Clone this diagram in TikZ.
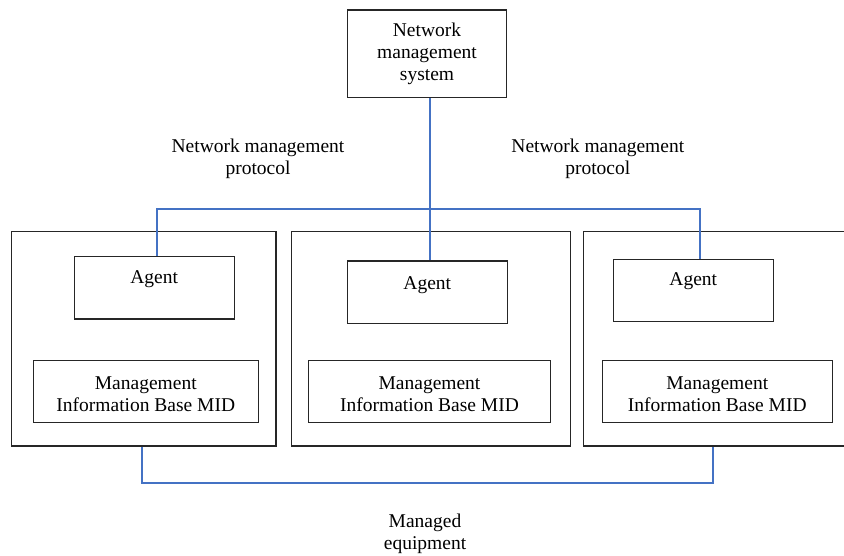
\documentclass[tikz,border=0pt]{standalone}
\usepackage{fontspec}
\setmainfont{Liberation Serif}
\usetikzlibrary{calc}
\definecolor{linkblue}{RGB}{68,114,196}
\begin{document}
\begin{tikzpicture}[x=1pt,y=-1pt,
  every node/.style={font=\fontsize{19.5}{22}\selectfont, align=center, inner sep=0pt},
  frame/.style={draw=black!85, line width=1.1pt},
  link/.style={draw=linkblue, line width=2pt},
  plain/.style={}]
\useasboundingbox (0,0) rectangle (844,556);
\clip (0,0) rectangle (844,556);
% top system box
\node[frame, minimum width=159.4pt, minimum height=87.3pt] (nms) at (427,53.7) {Network\\management\\system};
% outer equipment boxes
\node[frame, minimum width=264.3pt, minimum height=214.3pt] (eqL) at (143.85,338.85) {};
\node[frame, minimum width=279.4pt, minimum height=214.3pt] (eqM) at (431,338.85) {};
\node[frame, minimum width=262pt, minimum height=214.3pt] (eqR) at (714.3,338.85) {};
% agent boxes
\node[frame, minimum width=160pt, minimum height=62.3pt] (agL) at (154.1,287.85) {};
\node[frame, minimum width=160pt, minimum height=62.3pt] (agM) at (427.3,292.15) {};
\node[frame, minimum width=160pt, minimum height=62pt] (agR) at (693.3,290.3) {};
\node[plain] (agLt) at ($(agL.north)+(0,23.5)$) {Agent};
\node[plain] (agMt) at ($(agM.north)+(0,24.5)$) {Agent};
\node[plain] (agRt) at ($(agR.north)+(0,22.5)$) {Agent};
% MIB boxes
\node[frame, minimum width=225pt, minimum height=62pt] (mibL) at (145.8,391.7) {};
\node[frame, minimum width=242.4pt, minimum height=62pt] (mibM) at (429.5,391.7) {};
\node[frame, minimum width=230pt, minimum height=62pt] (mibR) at (717.3,391.7) {};
\node[plain] (mibLt) at ($(mibL.center)+(0,2.3)$) {Management\\Information Base MID};
\node[plain] (mibMt) at ($(mibM.center)+(0,2.3)$) {Management\\Information Base MID};
\node[plain] (mibRt) at ($(mibR.center)+(0,2.3)$) {Management\\Information Base MID};
% labels
\node[plain] (protL) at (258,159) {Network management\\protocol};
\node[plain] (protR) at (597.8,159) {Network management\\protocol};
\node[plain] (equip) at (425,534) {Managed\\equipment};
% network management protocol links
\coordinate (bus) at (430,209);
\draw[link] (nms.south -| bus) -- (agM.north -| bus);
\draw[link] (agL.north -| 157,0) -- (157,209) -- (700,209) -- (agR.north -| 700,0);
% managed equipment link
\draw[link] (eqL.south -| 142,0) -- (142,483) -- (713,483) -- (eqR.south -| 713,0);
\end{tikzpicture}
\end{document}
